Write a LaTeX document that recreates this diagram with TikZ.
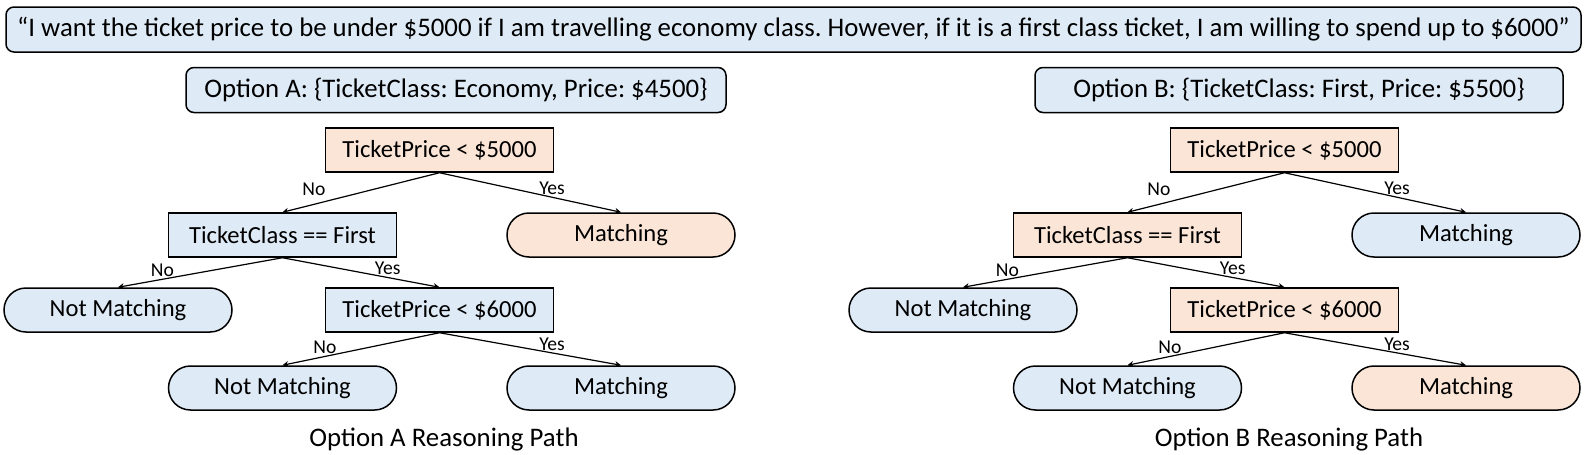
\documentclass[tikz,border=0pt]{standalone}
\usepackage{fontspec}
\setmainfont{Carlito}
\usetikzlibrary{shapes.misc,arrows.meta}
\definecolor{paleblue}{RGB}{222,235,247}
\definecolor{paleorange}{RGB}{251,229,214}
\frenchspacing
\begin{document}
\begin{tikzpicture}[x=0.5pt,y=-0.5pt,
  every node/.style={font=\fontsize{12.3}{14}\selectfont},
  big/.style={font=\fontsize{13.4}{15}\selectfont},
  test/.style={draw, line width=0.75pt, minimum width=114pt, minimum height=22pt, inner sep=0pt},
  leaf/.style={draw, line width=0.75pt, rounded rectangle, minimum width=114pt, minimum height=22pt, inner sep=0pt},
  info/.style={big, draw, line width=0.75pt, rounded corners=4pt, fill=paleblue, minimum height=22.5pt, inner sep=0pt},
  lbl/.style={font=\fontsize{9.8}{11}\selectfont, inner sep=1pt},
  arr/.style={-{Stealth[length=3pt,width=3pt]}, line width=0.6pt}]
\useasboundingbox (0,0) rectangle (1586,455);

\node[info, minimum width=787.5pt] (quote) at (793.5,29.5) {“I want the ticket price to be under \$5000 if I am travelling economy class. However, if it is a first class ticket, I am willing to spend up to \$6000”};
\node[info, minimum width=270pt] (optA) at (456,90) {Option A: \{TicketClass: Economy, Price: \$4500\}};
\node[info, minimum width=264pt] (optB) at (1299,90) {Option B: \{TicketClass: First, Price: \$5500\}};

% option A
\node[test, fill=paleorange] (a1) at (439.5,150) {TicketPrice < \$5000};
\node[test, fill=paleblue] (a2) at (282.5,235) {TicketClass == First};
\node[leaf, fill=paleorange] (a3) at (621,235) {Matching};
\node[leaf, fill=paleblue] (a4) at (118,310) {Not Matching};
\node[test, fill=paleblue] (a5) at (439.5,310) {TicketPrice < \$6000};
\node[leaf, fill=paleblue] (a6) at (282.5,388) {Not Matching};
\node[leaf, fill=paleblue] (a7) at (621,388) {Matching};
\node[big] (capA) at (444,439) {Option A Reasoning Path};

\draw[arr] (a1.south) -- node[lbl, pos=.8, above=3pt] {No} (a2.north);
\draw[arr] (a1.south) -- node[lbl, pos=.62, above] {Yes} (a3.north);
\draw[arr] (a2.south) -- node[lbl, pos=.73, above] {No} (a4.north);
\draw[arr] (a2.south) -- node[lbl, pos=.67, above] {Yes} (a5.north);
\draw[arr] (a5.south) -- node[lbl, pos=.73, above] {No} (a6.north);
\draw[arr] (a5.south) -- node[lbl, pos=.62, above] {Yes} (a7.north);

% option B
\node[test, fill=paleorange] (b1) at (1284.5,150) {TicketPrice < \$5000};
\node[test, fill=paleorange] (b2) at (1127.5,235) {TicketClass == First};
\node[leaf, fill=paleblue] (b3) at (1466,235) {Matching};
\node[leaf, fill=paleblue] (b4) at (963,310) {Not Matching};
\node[test, fill=paleorange] (b5) at (1284.5,310) {TicketPrice < \$6000};
\node[leaf, fill=paleblue] (b6) at (1127.5,388) {Not Matching};
\node[leaf, fill=paleorange] (b7) at (1466,388) {Matching};
\node[big] (capB) at (1289,439) {Option B Reasoning Path};

\draw[arr] (b1.south) -- node[lbl, pos=.8, above=3pt] {No} (b2.north);
\draw[arr] (b1.south) -- node[lbl, pos=.62, above] {Yes} (b3.north);
\draw[arr] (b2.south) -- node[lbl, pos=.73, above] {No} (b4.north);
\draw[arr] (b2.south) -- node[lbl, pos=.67, above] {Yes} (b5.north);
\draw[arr] (b5.south) -- node[lbl, pos=.73, above] {No} (b6.north);
\draw[arr] (b5.south) -- node[lbl, pos=.62, above] {Yes} (b7.north);
\end{tikzpicture}
\end{document}
